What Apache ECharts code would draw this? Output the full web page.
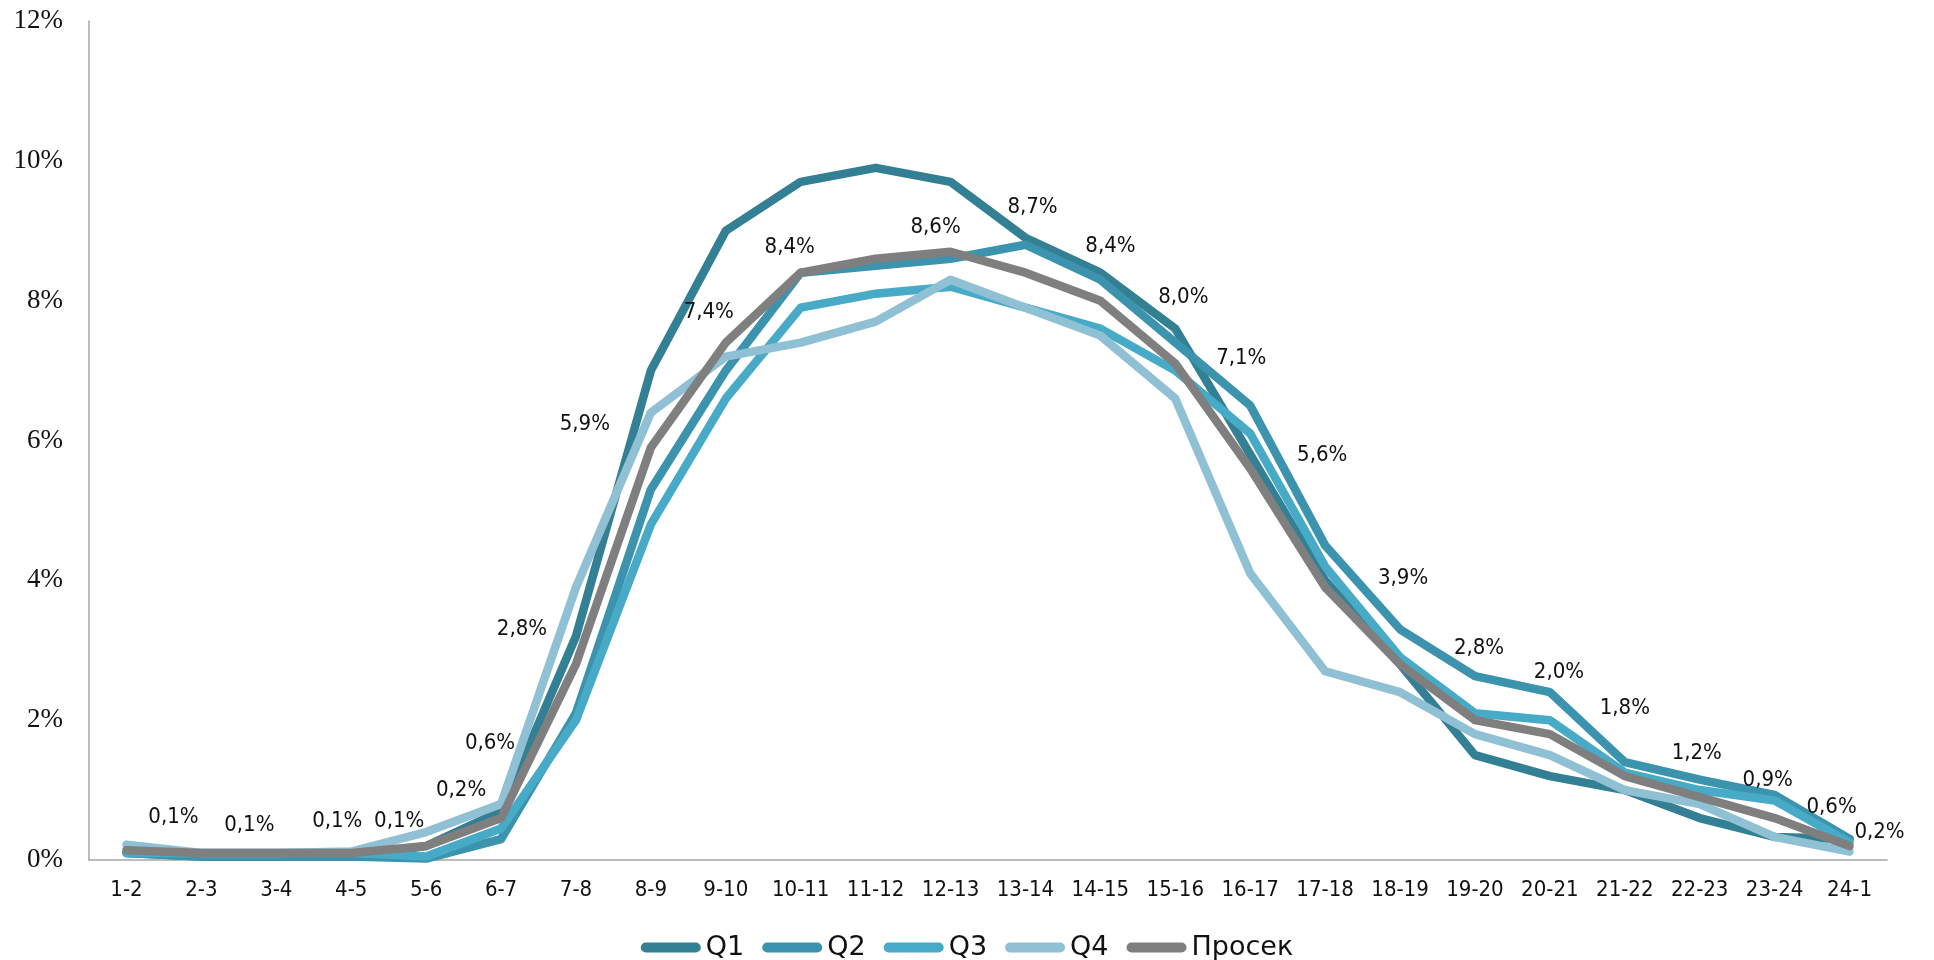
<!DOCTYPE html>
<html>
<head>
<meta charset="utf-8">
<script src="https://cdn.jsdelivr.net/npm/echarts@6/dist/echarts.min.js"></script>
<style>
html,body{margin:0;padding:0;background:#fff;}
#chart{width:1934px;height:960px;}
</style>
</head>
<body>
<div id="chart"></div>
<script>
const categories = ['1-2','2-3','3-4','4-5','5-6','6-7','7-8','8-9','9-10','10-11','11-12','12-13','13-14','14-15','15-16','16-17','17-18','18-19','19-20','20-21','21-22','22-23','23-24','24-1'];
const q1 = [0.1,0.05,0.05,0.05,0.2,0.7,3.2,7.0,9.0,9.7,9.9,9.7,8.9,8.4,7.6,5.8,4.0,2.8,1.5,1.2,1.0,0.6,0.33,0.3];
const q2 = [0.1,0.05,0.05,0.05,0.02,0.3,2.1,5.3,7.0,8.4,8.5,8.6,8.8,8.3,7.4,6.5,4.5,3.3,2.63,2.4,1.4,1.15,0.93,0.3];
const q3 = [0.1,0.1,0.1,0.1,0.05,0.45,2.0,4.8,6.6,7.9,8.1,8.2,7.9,7.6,7.0,6.1,4.2,2.9,2.1,2.0,1.25,1.0,0.85,0.25];
const q4 = [0.22,0.1,0.1,0.12,0.4,0.8,3.9,6.4,7.2,7.4,7.7,8.3,7.9,7.5,6.6,4.1,2.7,2.4,1.8,1.5,1.0,0.8,0.33,0.12];
const avg = [0.14,0.1,0.1,0.1,0.2,0.6,2.8,5.9,7.4,8.4,8.6,8.7,8.4,8.0,7.1,5.6,3.9,2.8,2.0,1.8,1.2,0.9,0.6,0.2];
const seriesNames = ['Q1','Q2','Q3','Q4','Просек'];
const yTicks = [0,2,4,6,8,10,12];

// label placement (style only): offset of each average label from its point, px
const labelOffsets = [[47,-33],[48,-28],[61,-32],[48,-32],[35,-56],[-11,-75],[-54,-35],[-66,-23],[-17,-30],[-11,-25],[60,-31],[82,-44],[85,-26],[83,-3],[66,-5],[72,-13],[78,-9],[79,-16],[84,-48],[75,-26],[72,-23],[68,-17],[57,-11],[30,-14]];

const colors = ['#337F93','#3B93AD','#47AAC6','#8FC0D4','#7F7F7F'];
const lineFont = 'DejaVu Sans Condensed, DejaVu Sans, sans-serif';

function mkSeries(name, data, color, withLabels){
  const s = {
    name: name,
    type: 'line',
    color: color,
    symbol: 'circle',
    symbolSize: 0.1,
    showSymbol: true,
    lineStyle: {width: 8.5, color: color, cap: 'round', join: 'round'},
    itemStyle: {color: color},
    emphasis: {disabled: true},
    z: 2,
    data: data
  };
  if (withLabels) {
    s.data = data.map((v,i) => ({value: v, label: {offset: labelOffsets[i]}}));
    s.label = {
      show: true,
      position: 'inside',
      color: '#111',
      fontFamily: lineFont,
      fontSize: 22,
      formatter: p => p.value.toFixed(1).replace('.', ',') + '%'
    };
    s.z = 3;
  }
  return s;
}

const chart = echarts.init(document.getElementById('chart'), null, {renderer: 'canvas'});
chart.setOption({
  animation: false,
  backgroundColor: '#fff',
  grid: {left: 89, right: 47, top: 21, bottom: 100, containLabel: false, outerBoundsMode: 'none'},
  legend: {
    data: seriesNames,
    top: 929,
    left: 'center',
    itemWidth: 60,
    itemHeight: 10,
    itemGap: 18,
    icon: 'path://M5,0H55A5,5,0,0,1,55,10H5A5,5,0,0,1,5,0Z',
    textStyle: {fontFamily: 'DejaVu Sans, sans-serif', fontSize: 27, color: '#111'}
  },
  xAxis: {
    type: 'category',
    data: categories,
    boundaryGap: true,
    axisLine: {show: true, lineStyle: {color: '#A6A6A6', width: 1.5}},
    axisTick: {show: false},
    axisLabel: {color: '#111', fontFamily: lineFont, fontSize: 22, margin: 19, interval: 0}
  },
  yAxis: {
    type: 'value',
    min: yTicks[0],
    max: yTicks[yTicks.length-1],
    interval: yTicks[1]-yTicks[0],
    axisLine: {show: true, lineStyle: {color: '#A6A6A6', width: 1.5}},
    axisTick: {show: false},
    splitLine: {show: false},
    axisLabel: {color: '#111', fontFamily: 'Liberation Serif, serif', fontSize: 27, margin: 26, formatter: v => v + '%'}
  },
  series: [
    mkSeries(seriesNames[0], q1, colors[0], false),
    mkSeries(seriesNames[1], q2, colors[1], false),
    mkSeries(seriesNames[2], q3, colors[2], false),
    mkSeries(seriesNames[3], q4, colors[3], false),
    mkSeries(seriesNames[4], avg, colors[4], true)
  ]
});
</script>
</body>
</html>
